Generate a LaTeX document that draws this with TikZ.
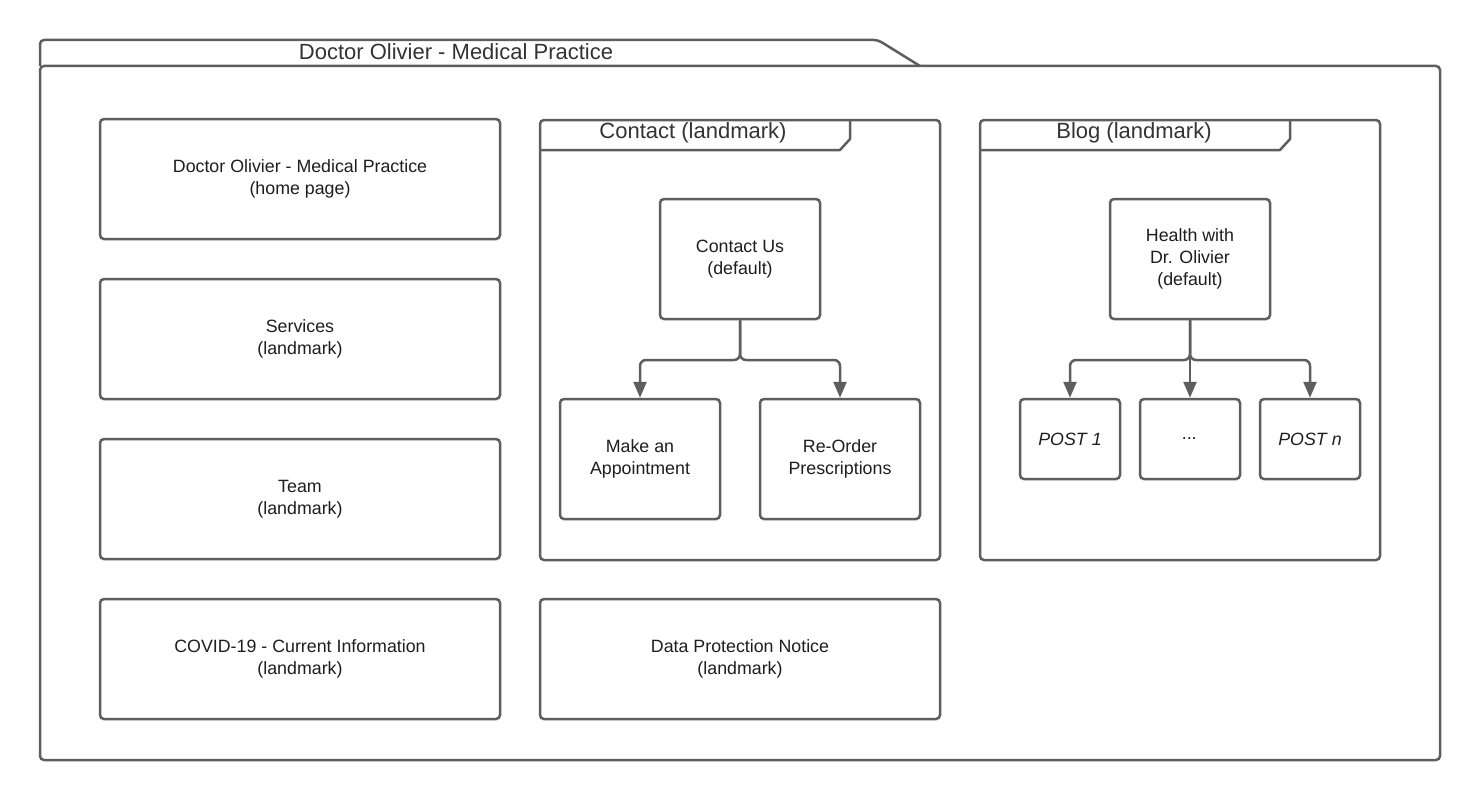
\documentclass[tikz,border=0pt]{standalone}
\usepackage{fontspec}
\setmainfont{Liberation Sans}
\usetikzlibrary{arrows.meta}
\definecolor{ln}{HTML}{5E5E5E}
\definecolor{tx}{HTML}{1E1E1E}
\definecolor{ttl}{HTML}{333333}
\tikzset{
  pagebox/.style={draw=ln, line width=2.5pt, rounded corners=4pt, fill=white,
    minimum width=400pt, minimum height=120pt, align=center, text=tx,
    font=\fontsize{17.8}{22}\selectfont, inner sep=0pt},
  subbox/.style={pagebox, minimum width=160pt, minimum height=120pt},
  postbox/.style={pagebox, minimum width=100pt, minimum height=80pt},
  framebox/.style={draw=ln, line width=2.5pt, rounded corners=4pt},
  tabline/.style={draw=ln, line width=2.5pt, line join=round},
  framelbl/.style={text=ttl, font=\fontsize{22}{26}\selectfont, inner sep=0pt},
  conn/.style={draw=ln, line width=2.5pt, rounded corners=6pt,
    -{Triangle[length=16pt,width=13pt]}},
}
\begin{document}
\begin{tikzpicture}[x=1pt,y=-1pt]
\useasboundingbox[fill=white] (0,0) rectangle (1480,800);
% outer package frame
\draw[framebox] (40,66) rectangle (1440,760);
\draw[tabline] (40,66) [rounded corners=4pt] -- (40,40) -- (878,40) [sharp corners] -- (920,66);
\node[framelbl] (maint) at (456,52) {Doctor Olivier - Medical Practice};
% left column
\node[pagebox] (home) at (300,179) {Doctor Olivier - Medical Practice\\(home page)};
\node[pagebox] (serv) at (300,339) {Services\\(landmark)};
\node[pagebox] (team) at (300,499) {Team\\(landmark)};
\node[pagebox] (covid) at (300,659) {COVID-19 - Current Information\\(landmark)};
\node[pagebox] (dpn) at (740,659) {Data Protection Notice\\(landmark)};
% contact frame
\draw[framebox] (540,120) rectangle (940,560);
\draw[tabline] (540,150) -- (840,150) -- (850,139) -- (850,120);
\node[framelbl] (ctit) at (693,133) {Contact (landmark)};
\node[subbox] (cu) at (740,259) {Contact Us\\(default)};
\node[subbox] (ma) at (640,459) {Make an\\Appointment};
\node[subbox] (ro) at (840,459) {Re-Order\\Prescriptions};
\coordinate (cj) at (740,360);
\draw[conn] (cu.south) -- (cu.south |- cj) -| (ma.north);
\draw[conn] (cu.south) -- (cu.south |- cj) -| (ro.north);
% blog frame
\draw[framebox] (980,120) rectangle (1380,560);
\draw[tabline] (980,150) -- (1280,150) -- (1290,139) -- (1290,120);
\node[framelbl] (btit) at (1134,133) {Blog (landmark)};
\node[subbox] (hw) at (1190,259) {Health with\\Dr. Olivier\\(default)};
\node[postbox] (p1) at (1070,439) {\itshape POST 1};
\node[postbox] (pd) at (1190,439) {\itshape ...};
\node[postbox] (pn) at (1310,439) {\itshape POST n};
\coordinate (bj) at (1190,360);
\draw[conn] (hw.south) -- (hw.south |- bj) -| (p1.north);
\draw[conn] (hw.south) -- (pd.north);
\draw[conn] (hw.south) -- (hw.south |- bj) -| (pn.north);
\end{tikzpicture}
\end{document}
